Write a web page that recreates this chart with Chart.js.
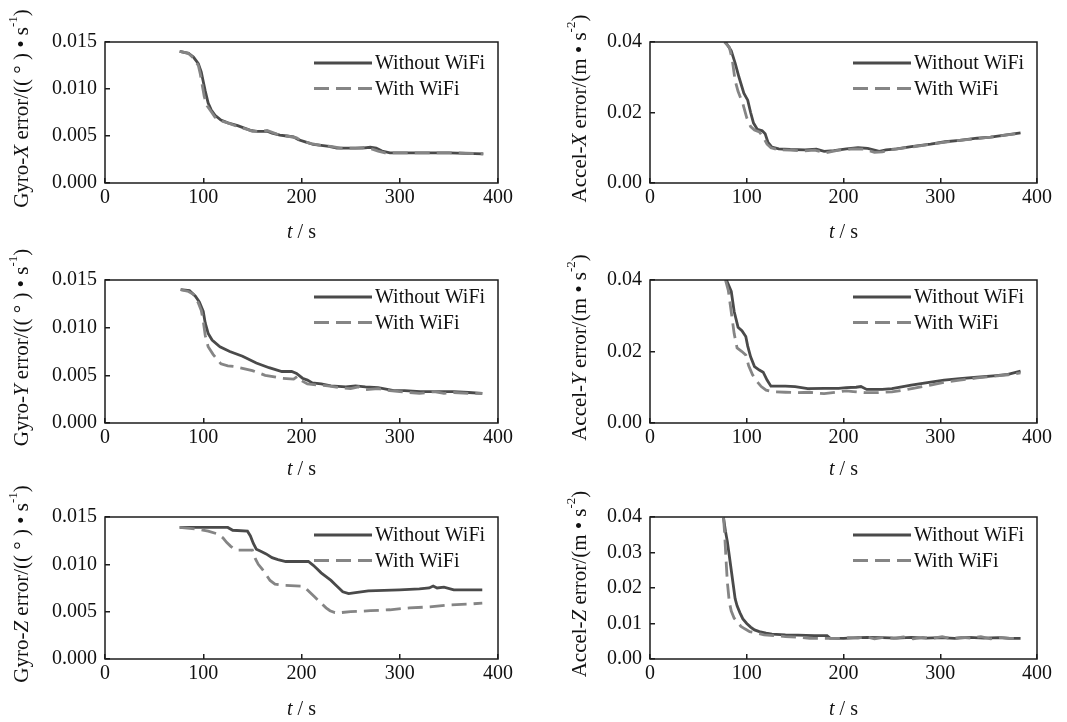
<!DOCTYPE html>
<html>
<head>
<meta charset="utf-8">
<script src="https://cdn.jsdelivr.net/npm/chart.js@4.4.1/dist/chart.umd.min.js"></script>
<style>
  html, body { margin: 0; padding: 0; background: #fff; }
  #wrap { position: relative; width: 1067px; height: 722px; background: #fff; overflow: hidden; }
  #wrap canvas { position: absolute; }
</style>
</head>
<body>
<div id="wrap">
  <canvas id="gx" width="533" height="245" style="left:0;top:0"></canvas>
  <canvas id="ax" width="534" height="245" style="left:533px;top:0"></canvas>
  <canvas id="gy" width="533" height="240" style="left:0;top:240px"></canvas>
  <canvas id="ay" width="534" height="240" style="left:533px;top:240px"></canvas>
  <canvas id="gz" width="533" height="242" style="left:0;top:480px"></canvas>
  <canvas id="az" width="534" height="242" style="left:533px;top:480px"></canvas>
</div>
<script>
// ---- data (t in s, error values) ----
const xTicks = [0, 100, 200, 300, 400];
const gyroTicks = [0, 0.005, 0.010, 0.015];
const accelTicks = [0, 0.02, 0.04];
const accelZTicks = [0, 0.01, 0.02, 0.03, 0.04];

// Gyro-X
const gyroXNoWifiT = [76, 85, 90, 95, 98, 100, 102, 105, 108, 112, 118, 125, 135, 148, 155, 165, 170, 178, 185, 192, 197, 203, 212, 220, 228, 236, 250, 262, 270, 276, 282, 290, 320, 350, 385];
const gyroXNoWifi = [0.0140, 0.0138, 0.0134, 0.0127, 0.0118, 0.0108, 0.0098, 0.0085, 0.0078, 0.0072, 0.0067, 0.0064, 0.0061, 0.0056, 0.0055, 0.0055, 0.0053, 0.0051, 0.0050, 0.0049, 0.0046, 0.0044, 0.0041, 0.0040, 0.0039, 0.0037, 0.0037, 0.0037, 0.0038, 0.0037, 0.0034, 0.0032, 0.0032, 0.0032, 0.0031];
const gyroXWifiT = [76, 85, 90, 95, 97, 99, 101, 104, 108, 112, 118, 125, 135, 145, 150, 160, 165, 175, 185, 195, 200, 210, 220, 230, 240, 255, 265, 272, 278, 285, 300, 330, 360, 385];
const gyroXWifi = [0.0140, 0.0138, 0.0133, 0.0125, 0.0116, 0.0104, 0.0092, 0.0082, 0.0076, 0.0070, 0.0066, 0.0064, 0.0060, 0.0057, 0.0055, 0.0055, 0.0056, 0.0052, 0.0050, 0.0048, 0.0045, 0.0042, 0.0040, 0.0039, 0.0037, 0.0037, 0.0038, 0.0036, 0.0034, 0.0032, 0.0032, 0.0032, 0.0032, 0.0031];

// Accel-X
const accelXNoWifiT = [78, 84, 88, 92, 97, 101, 104, 107, 111, 116, 119, 122, 126, 133, 145, 160, 172, 180, 190, 203, 215, 225, 237, 244, 255, 270, 290, 305, 320, 338, 352, 365, 383];
const accelXNoWifi = [0.0400, 0.0375, 0.0340, 0.0300, 0.0255, 0.0235, 0.0200, 0.0170, 0.0152, 0.0148, 0.0140, 0.0115, 0.0102, 0.0097, 0.0095, 0.0094, 0.0096, 0.0090, 0.0092, 0.0097, 0.0100, 0.0098, 0.0090, 0.0094, 0.0097, 0.0103, 0.0110, 0.0117, 0.0121, 0.0127, 0.0130, 0.0135, 0.0142];
const accelXWifiT = [77, 82, 85, 88, 91, 96, 100, 104, 108, 113, 117, 121, 125, 132, 145, 160, 170, 182, 195, 210, 222, 232, 240, 250, 270, 290, 305, 320, 338, 352, 365, 383];
const accelXWifi = [0.0400, 0.0385, 0.0350, 0.0290, 0.0260, 0.0225, 0.0185, 0.0160, 0.0150, 0.0145, 0.0130, 0.0110, 0.0100, 0.0095, 0.0093, 0.0091, 0.0093, 0.0086, 0.0093, 0.0097, 0.0096, 0.0087, 0.0088, 0.0095, 0.0102, 0.0110, 0.0116, 0.0121, 0.0126, 0.0130, 0.0135, 0.0141];

// Gyro-Y
const gyroYNoWifiT = [77, 86, 92, 96, 100, 102, 105, 109, 117, 127, 140, 154, 167, 180, 190, 195, 201, 206, 211, 220, 230, 245, 255, 265, 278, 294, 305, 321, 340, 355, 370, 384];
const gyroYNoWifi = [0.0140, 0.0139, 0.0133, 0.0127, 0.0117, 0.0105, 0.0094, 0.0087, 0.0080, 0.0075, 0.0070, 0.0063, 0.0058, 0.0054, 0.0054, 0.0052, 0.0047, 0.0045, 0.0042, 0.0041, 0.0039, 0.0038, 0.0039, 0.0038, 0.0037, 0.0034, 0.0034, 0.0033, 0.0033, 0.0033, 0.0032, 0.0031];
const gyroYWifiT = [77, 85, 90, 95, 98, 100, 102, 105, 110, 118, 125, 133, 150, 163, 180, 192, 196, 199, 206, 215, 227, 240, 250, 258, 265, 278, 290, 300, 320, 335, 345, 355, 370, 384];
const gyroYWifi = [0.0140, 0.0138, 0.0135, 0.0126, 0.0118, 0.0107, 0.0092, 0.0080, 0.0072, 0.0062, 0.0060, 0.0059, 0.0055, 0.0050, 0.0047, 0.0046, 0.0049, 0.0045, 0.0041, 0.0040, 0.0039, 0.0037, 0.0036, 0.0038, 0.0035, 0.0036, 0.0034, 0.0033, 0.0031, 0.0033, 0.0031, 0.0032, 0.0031, 0.0031];

// Accel-Y
const accelYNoWifiT = [79, 84, 87, 91, 95, 99, 101, 104, 108, 113, 117, 121, 125, 140, 150, 163, 180, 195, 203, 213, 218, 224, 240, 250, 260, 270, 285, 304, 320, 338, 355, 370, 383];
const accelYNoWifi = [0.0400, 0.0368, 0.0312, 0.0268, 0.0258, 0.0242, 0.0215, 0.0185, 0.0158, 0.0148, 0.0142, 0.0120, 0.0103, 0.0103, 0.0102, 0.0096, 0.0097, 0.0097, 0.0099, 0.0100, 0.0102, 0.0094, 0.0094, 0.0096, 0.0101, 0.0106, 0.0112, 0.0120, 0.0124, 0.0128, 0.0132, 0.0136, 0.0145];
const accelYWifiT = [78, 81, 84, 87, 90, 95, 99, 102, 106, 110, 115, 120, 128, 140, 153, 165, 180, 195, 203, 210, 222, 235, 250, 262, 272, 290, 304, 320, 338, 355, 370, 383];
const accelYWifi = [0.0400, 0.0370, 0.0310, 0.0250, 0.0210, 0.0200, 0.0190, 0.0160, 0.0135, 0.0118, 0.0102, 0.0092, 0.0087, 0.0086, 0.0085, 0.0086, 0.0082, 0.0087, 0.0090, 0.0088, 0.0085, 0.0085, 0.0087, 0.0092, 0.0097, 0.0106, 0.0114, 0.0120, 0.0126, 0.0131, 0.0135, 0.0140];

// Gyro-Z
const gyroZNoWifiT = [76, 125, 130, 145, 148, 151, 154, 158, 164, 170, 176, 184, 207, 212, 216, 220, 225, 230, 234, 238, 242, 248, 255, 268, 300, 320, 330, 334, 338, 345, 355, 370, 384];
const gyroZNoWifi = [0.0139, 0.0139, 0.0136, 0.0135, 0.0130, 0.0122, 0.0116, 0.0114, 0.0111, 0.0107, 0.0105, 0.0103, 0.0103, 0.0099, 0.0095, 0.0091, 0.0087, 0.0083, 0.0079, 0.0075, 0.0071, 0.0069, 0.0070, 0.0072, 0.0073, 0.0074, 0.0075, 0.0077, 0.0075, 0.0076, 0.0073, 0.0073, 0.0073];
const gyroZWifiT = [76, 95, 105, 115, 120, 124, 128, 133, 150, 153, 156, 160, 164, 168, 173, 180, 200, 205, 209, 213, 217, 221, 225, 229, 234, 240, 250, 270, 290, 310, 330, 350, 370, 384];
const gyroZWifi = [0.0139, 0.0137, 0.0135, 0.0132, 0.0128, 0.0123, 0.0119, 0.0115, 0.0115, 0.0106, 0.0100, 0.0095, 0.0089, 0.0083, 0.0079, 0.0078, 0.0077, 0.0074, 0.0070, 0.0066, 0.0062, 0.0058, 0.0054, 0.0051, 0.0049, 0.0049, 0.0050, 0.0051, 0.0052, 0.0054, 0.0055, 0.0057, 0.0058, 0.0059];

// Accel-Z
const accelZNoWifiT = [76, 78, 80, 82, 84, 86, 88, 90, 93, 96, 100, 104, 108, 113, 120, 126, 140, 153, 170, 183, 186, 200, 215, 225, 240, 255, 270, 285, 300, 315, 330, 345, 360, 372, 383];
const accelZNoWifi = [0.0398, 0.0360, 0.0330, 0.0290, 0.0250, 0.0210, 0.0170, 0.0150, 0.0130, 0.0113, 0.0100, 0.0090, 0.0082, 0.0077, 0.0073, 0.0070, 0.0068, 0.0067, 0.0066, 0.0066, 0.0059, 0.0058, 0.0060, 0.0061, 0.0060, 0.0059, 0.0061, 0.0059, 0.0060, 0.0058, 0.0061, 0.0059, 0.0060, 0.0058, 0.0058];
const accelZWifiT = [76, 77, 78, 79, 80, 82, 84, 87, 90, 94, 98, 103, 110, 118, 128, 140, 155, 165, 180, 195, 205, 215, 222, 232, 242, 252, 262, 272, 282, 292, 302, 312, 322, 332, 342, 352, 362, 372, 383];
const accelZWifi = [0.0398, 0.0360, 0.0310, 0.0260, 0.0215, 0.0160, 0.0135, 0.0115, 0.0105, 0.0092, 0.0085, 0.0077, 0.0073, 0.0068, 0.0066, 0.0063, 0.0061, 0.0058, 0.0058, 0.0058, 0.0060, 0.0059, 0.0063, 0.0057, 0.0061, 0.0058, 0.0062, 0.0057, 0.0061, 0.0058, 0.0063, 0.0057, 0.0061, 0.0059, 0.0063, 0.0057, 0.0061, 0.0058, 0.0058];

const seriesNames = ['Without WiFi', 'With WiFi'];

// ---- styling ----
const SERIF = '"Liberation Serif", "Times New Roman", serif';
const INK = '#111';
const SOLID = '#4a4a4a';
const DASHED = '#858585';
const DASH = [15, 7];

const gyroTitle = axis => [
  { t: 'Gyro-' }, { t: axis, it: true }, { t: ' error/(( ° ) • s' }, { t: '-1', sup: true }, { t: ')' }
];
const accelTitle = axis => [
  { t: 'Accel-' }, { t: axis, it: true }, { t: ' error/(m • s' }, { t: '-2', sup: true }, { t: ')' }
];

// draw a run of mixed-style text centred on (x, y)
function richText(ctx, parts, x, y, size) {
  const fontOf = p => (p.it ? 'italic ' : '') + (p.sup ? Math.round(size * 0.6) : size) + 'px ' + SERIF;
  let total = 0;
  parts.forEach(p => { ctx.font = fontOf(p); p.w = ctx.measureText(p.t).width; total += p.w; });
  let cx = x - total / 2;
  ctx.textAlign = 'left';
  ctx.textBaseline = 'middle';
  parts.forEach(p => {
    ctx.font = fontOf(p);
    ctx.fillText(p.t, cx, p.sup ? y - size * 0.38 : y);
    cx += p.w;
  });
}

// frame, axis titles and the in-plot legend
const decor = {
  id: 'decor',
  afterDraw(chart, args, o) {
    const { ctx, chartArea: a } = chart;
    ctx.save();
    ctx.strokeStyle = '#1c1c1c';
    ctx.lineWidth = 1.5;
    ctx.setLineDash([]);
    ctx.strokeRect(a.left, a.top, a.right - a.left, a.bottom - a.top);

    ctx.fillStyle = INK;
    // y title (rotated)
    ctx.save();
    ctx.translate(o.yTitleX, (a.top + a.bottom) / 2 + o.yTitleShift);
    ctx.rotate(-Math.PI / 2);
    richText(ctx, o.yTitle, 0, 0, 21);
    ctx.restore();
    // x title
    richText(ctx, [{ t: 't', it: true }, { t: ' / s' }], (a.left + a.right) / 2, o.xTitleY, 20);

    // legend
    const textX = a.right - 123;
    chart.data.datasets.forEach((ds, i) => {
      const y = a.top + o.legendTop + i * 25.5;
      ctx.strokeStyle = ds.borderColor;
      ctx.lineWidth = ds.borderWidth;
      ctx.setLineDash(ds.borderDash || []);
      ctx.beginPath();
      ctx.moveTo(textX - 61, y);
      ctx.lineTo(textX - 3, y);
      ctx.stroke();
      ctx.setLineDash([]);
      ctx.fillStyle = INK;
      ctx.font = '20px ' + SERIF;
      ctx.textAlign = 'left';
      ctx.textBaseline = 'middle';
      ctx.fillText(ds.label, textX, y + 1);
    });
    ctx.restore();
  }
};

const toXY = (ts, vs) => ts.map((t, i) => ({ x: t, y: vs[i] }));

function makePanel(id, box, plot, yTicks, dec, yTitle, yTitleX, legendTop, xTitleY, s1, s2) {
  const [bx, by, bw, bh] = box;
  const [pl, pt, pr, pb] = plot;
  const yMax = yTicks[yTicks.length - 1];
  const step = yTicks[1] - yTicks[0];
  new Chart(document.getElementById(id), {
    type: 'line',
    data: {
      datasets: [
        { label: seriesNames[0], data: toXY(s1[0], s1[1]), borderColor: SOLID, borderWidth: 2.8, pointRadius: 0, order: 1 },
        { label: seriesNames[1], data: toXY(s2[0], s2[1]), borderColor: DASHED, borderWidth: 2.8, borderDash: DASH, pointRadius: 0, order: 0 }
      ]
    },
    options: {
      responsive: false,
      animation: false,
      events: [],
      layout: { padding: { left: 0, top: pt - by, right: bx + bw - pr, bottom: 0 } },
      plugins: {
        legend: { display: false },
        tooltip: { enabled: false },
        decor: { yTitle, yTitleX, yTitleShift: -4, xTitleY, legendTop }
      },
      scales: {
        x: {
          type: 'linear', min: xTicks[0], max: xTicks[xTicks.length - 1],
          ticks: { stepSize: xTicks[1] - xTicks[0], maxRotation: 0, autoSkip: false, padding: 8, color: INK, font: { family: SERIF, size: 20 } },
          grid: { drawOnChartArea: false, tickLength: -5, color: '#1c1c1c', lineWidth: 1.5 },
          border: { display: false },
          afterFit: s => { s.height = by + bh - pb; }
        },
        y: {
          min: 0, max: yMax,
          ticks: { stepSize: step, autoSkip: false, padding: 13, color: INK, font: { family: SERIF, size: 20 }, callback: v => Number(v).toFixed(dec) },
          grid: { drawOnChartArea: false, tickLength: -5, color: '#1c1c1c', lineWidth: 1.5 },
          border: { display: false },
          afterFit: s => { s.width = pl - bx; }
        }
      }
    },
    plugins: [decor]
  });
}

// page-space plot boxes: [left, top, right, bottom]
makePanel('gx', [0, 0, 533, 245], [105, 42, 498, 183], gyroTicks, 3, gyroTitle('X'), 22, 21, 233,
  [gyroXNoWifiT, gyroXNoWifi], [gyroXWifiT, gyroXWifi]);
makePanel('ax', [533, 0, 534, 245], [650, 42, 1037, 183], accelTicks, 2, accelTitle('X'), 47, 21, 233,
  [accelXNoWifiT, accelXNoWifi], [accelXWifiT, accelXWifi]);
makePanel('gy', [0, 240, 533, 240], [105, 280, 498, 423], gyroTicks, 3, gyroTitle('Y'), 22, 17, 230,
  [gyroYNoWifiT, gyroYNoWifi], [gyroYWifiT, gyroYWifi]);
makePanel('ay', [533, 240, 534, 240], [650, 280, 1037, 423], accelTicks, 2, accelTitle('Y'), 47, 17, 230,
  [accelYNoWifiT, accelYNoWifi], [accelYWifiT, accelYWifi]);
makePanel('gz', [0, 480, 533, 242], [105, 517, 498, 659], gyroTicks, 3, gyroTitle('Z'), 22, 18, 230,
  [gyroZNoWifiT, gyroZNoWifi], [gyroZWifiT, gyroZWifi]);
makePanel('az', [533, 480, 534, 242], [650, 517, 1037, 659], accelZTicks, 2, accelTitle('Z'), 47, 18, 230,
  [accelZNoWifiT, accelZNoWifi], [accelZWifiT, accelZWifi]);
</script>
</body>
</html>
